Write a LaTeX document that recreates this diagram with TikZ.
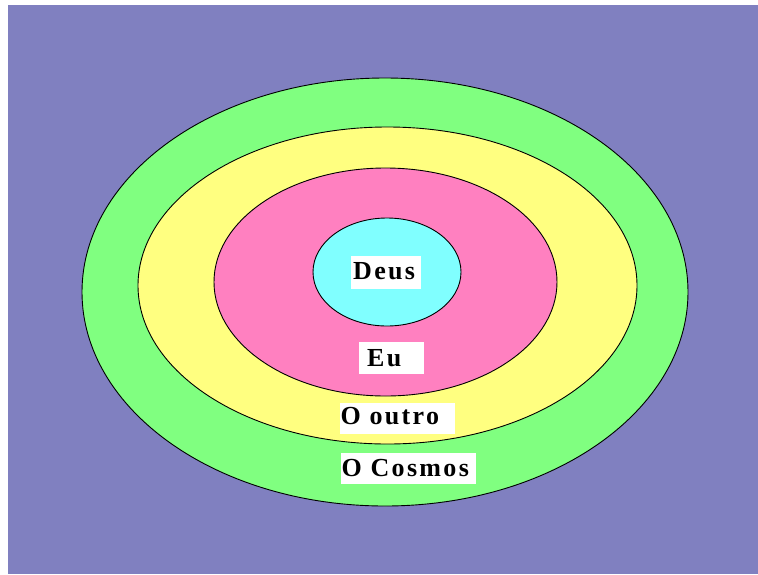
\documentclass[tikz,border=0pt]{standalone}
\usepackage{fontspec}
\setmainfont{Liberation Serif}
\definecolor{bgpurple}{RGB}{128,128,192}
\definecolor{cosmosgreen}{RGB}{128,255,128}
\definecolor{outroyellow}{RGB}{255,255,128}
\definecolor{eupink}{RGB}{255,128,192}
\definecolor{deuscyan}{RGB}{128,255,255}
\tikzset{
  ring/.style={draw=black, line width=0.9pt},
  lbl/.style={fill=white, inner sep=0pt, anchor=north west, align=left,
    font=\fontsize{26}{26}\selectfont\bfseries\addfontfeature{LetterSpace=9}}
}
\begin{document}
\begin{tikzpicture}[x=1pt,y=-1pt]
\useasboundingbox (0,0) rectangle (758,574);
\fill[white] (0,0) rectangle (758,574);
\fill[bgpurple] (8,5) rectangle (758,574);
\filldraw[ring, fill=cosmosgreen] (385,292) ellipse [x radius=303, y radius=214];
\filldraw[ring, fill=outroyellow] (387.5,285.5) ellipse [x radius=249.5, y radius=158.5];
\filldraw[ring, fill=eupink] (385.5,282) ellipse [x radius=171.5, y radius=114];
\filldraw[ring, fill=deuscyan] (387,272) ellipse [x radius=74, y radius=54];
\node[lbl, text width=70pt, text height=23pt, text depth=10pt] (deus) at (351,256) {\hspace*{2pt}Deus};
\node[lbl, text width=65pt, text height=24pt, text depth=7.5pt] (eu) at (359,342) {\hspace*{8pt}Eu};
\node[lbl, text width=115pt, text height=22pt, text depth=9pt] (outro) at (340,402.5) {\hspace*{0.5pt}O outro};
\node[lbl, text width=135pt, text height=23.5pt, text depth=7pt] (cosmos) at (341,453) {\hspace*{0.5pt}O Cosmos};
\end{tikzpicture}
\end{document}
